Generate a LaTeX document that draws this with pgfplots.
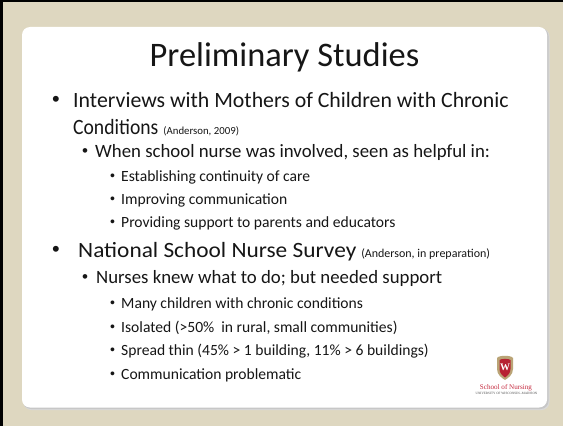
\documentclass[border=0pt]{standalone}
\usepackage{pgfplots}
\pgfplotsset{compat=1.18}
\usepackage{graphicx}
\usepackage{fontspec}
\setmainfont{Carlito}
\newfontfamily\logofont{Liberation Serif}
\newfontfamily\bulfont{Liberation Sans}
\definecolor{bg}{RGB}{222,215,192}
\definecolor{txt}{RGB}{22,22,22}
\definecolor{uwred}{RGB}{183,33,50}
\definecolor{uwtan}{RGB}{186,164,118}
\definecolor{nursred}{RGB}{197,40,61}
\newcommand{\fs}[1]{\fontsize{#1bp}{#1bp}\selectfont}
\begin{document}
\begin{tikzpicture}
\begin{axis}[width=563bp,height=426bp,scale only axis,
  xmin=0,xmax=563,ymin=0,ymax=426,y dir=reverse,hide axis,clip=false]
% background and frame
\fill[bg] (axis cs:0,0) rectangle (axis cs:563,426);
\fill[black] (axis cs:0,0) rectangle (axis cs:563,2.5);
\fill[black] (axis cs:0,0) rectangle (axis cs:2.5,426);
\fill[black!15,rounded corners=8bp] (axis cs:23.5,28.5) rectangle (axis cs:549.5,410);
\fill[black!22,rounded corners=8bp] (axis cs:23,28) rectangle (axis cs:548.5,409);
\fill[white,rounded corners=8bp] (axis cs:22,27) rectangle (axis cs:547,407.5);
% title
\node[anchor=base,inner sep=0,text=txt,font=\fs{34.4}] at (axis cs:284.5,67) {Preliminary Studies};
% level 1
\node[anchor=base west,inner sep=0,text=txt,font=\fs{21.8}\bulfont] at (axis cs:52,106) {•};
\node[anchor=base west,inner sep=0,text=txt,font=\fs{21.8}] at (axis cs:73,107) {Interviews with Mothers of Children with Chronic};
\node[anchor=base west,inner sep=0,text=txt,font=\fs{21.8}] at (axis cs:73,134) {\scalebox{0.9}[1]{Conditions} {\fs{10.8}(Anderson, 2009)}};
% level 2
\node[anchor=base west,inner sep=0,text=txt,font=\fs{17}\bulfont] at (axis cs:82,156) {•};
\node[anchor=base west,inner sep=0,text=txt,font=\fs{18.8}] at (axis cs:95,157) {When school nurse was involved, seen as helpful in:};
% level 3
\node[anchor=base west,inner sep=0,text=txt,font=\fs{14}\bulfont] at (axis cs:110,180) {•};
\node[anchor=base west,inner sep=0,text=txt,font=\fs{15.6}] at (axis cs:121,181) {Establishing continuity of care};
\node[anchor=base west,inner sep=0,text=txt,font=\fs{14}\bulfont] at (axis cs:110,203) {•};
\node[anchor=base west,inner sep=0,text=txt,font=\fs{15.6}] at (axis cs:121,204) {Improving communication};
\node[anchor=base west,inner sep=0,text=txt,font=\fs{14}\bulfont] at (axis cs:110,226) {•};
\node[anchor=base west,inner sep=0,text=txt,font=\fs{15.6}] at (axis cs:121,227) {Providing support to parents and educators};
% level 1
\node[anchor=base west,inner sep=0,text=txt,font=\fs{21.8}\bulfont] at (axis cs:52,256) {•};
\node[anchor=base west,inner sep=0,text=txt,font=\fs{21.8}] at (axis cs:78,257) {\scalebox{1.07}[1]{National School Nurse Survey} {\fs{12}(Anderson, in preparation)}};
% level 2
\node[anchor=base west,inner sep=0,text=txt,font=\fs{17}\bulfont] at (axis cs:82,282) {•};
\node[anchor=base west,inner sep=0,text=txt,font=\fs{18.8}] at (axis cs:96,283) {Nurses knew what to do; but needed support};
% level 3
\node[anchor=base west,inner sep=0,text=txt,font=\fs{14}\bulfont] at (axis cs:110,307) {•};
\node[anchor=base west,inner sep=0,text=txt,font=\fs{15.6}] at (axis cs:121,308) {Many children with chronic conditions};
\node[anchor=base west,inner sep=0,text=txt,font=\fs{14}\bulfont] at (axis cs:110,331) {•};
\node[anchor=base west,inner sep=0,text=txt,font=\fs{15.6}] at (axis cs:121,332) {Isolated (>50\%~~in rural, small communities)};
\node[anchor=base west,inner sep=0,text=txt,font=\fs{14}\bulfont] at (axis cs:110,354) {•};
\node[anchor=base west,inner sep=0,text=txt,font=\fs{15.6}] at (axis cs:121,355) {Spread thin (45\% > 1 building, 11\% > 6 buildings)};
\node[anchor=base west,inner sep=0,text=txt,font=\fs{14}\bulfont] at (axis cs:110,378) {•};
\node[anchor=base west,inner sep=0,text=txt,font=\fs{15.6}] at (axis cs:121,379) {Communication problematic};
% logo
\fill[uwtan] (axis cs:497,358) .. controls (axis cs:499,355) and (axis cs:511,355) .. (axis cs:513,358)
  -- (axis cs:513,369) .. controls (axis cs:513,375) and (axis cs:508,378) .. (axis cs:505,380)
  .. controls (axis cs:502,378) and (axis cs:497,375) .. (axis cs:497,369) -- cycle;
\fill[uwred] (axis cs:499.5,360) .. controls (axis cs:501,358.5) and (axis cs:509,358.5) .. (axis cs:510.5,360)
  -- (axis cs:510.5,369) .. controls (axis cs:510.5,373.5) and (axis cs:507,376) .. (axis cs:505,377.5)
  .. controls (axis cs:503,376) and (axis cs:499.5,373.5) .. (axis cs:499.5,369) -- cycle;
\node[inner sep=0,text=white,font=\fs{10}\bfseries\logofont] at (axis cs:505,367.5) {W};
\node[inner sep=0,text=nursred,font=\fs{7.1}\logofont] at (axis cs:506,388) {School of Nursing};
\node[inner sep=0,text=black!70,font=\fs{3.3}\logofont] at (axis cs:506.5,393.5) {UNIVERSITY OF WISCONSIN--MADISON};
\end{axis}
\end{tikzpicture}
\end{document}
